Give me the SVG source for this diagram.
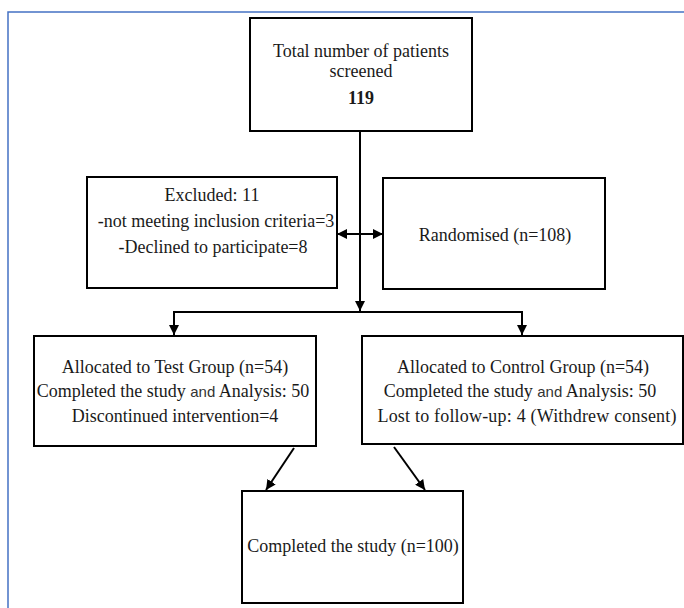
<svg xmlns="http://www.w3.org/2000/svg" width="684" height="608" viewBox="0 0 684 608">
<style>
.box{fill:#fff;stroke:#000;stroke-width:2}
.t{font-family:"Liberation Serif","Times New Roman",serif;font-size:18px;fill:#1a1a1a;text-anchor:middle}
.b{font-weight:bold}
.s{font-family:"Liberation Sans",Arial,sans-serif;font-size:15px;fill:#333}
.c{stroke:#000;stroke-width:2;fill:none}
.frame{stroke:#4472C4;stroke-width:1.5;fill:none}
</style>
<defs>
<marker id="ah" viewBox="0 0 10 10" refX="10" refY="5" markerWidth="10" markerHeight="10" markerUnits="userSpaceOnUse" orient="auto-start-reverse">
<path d="M0,0 L10,5 L0,10 z" fill="#000"/>
</marker>
</defs>
<path class="frame" d="M8,608 V12 H684"/>
<g id="connectors">
<path class="c" d="M360,131 V311" marker-end="url(#ah)"/>
<path class="c" d="M174,335 V312 H522 V335" marker-start="url(#ah)" marker-end="url(#ah)"/>
<path class="c" d="M337,234 H383" marker-start="url(#ah)" marker-end="url(#ah)"/>
<path class="c" d="M294,448 L266,490" marker-end="url(#ah)"/>
<path class="c" d="M394,447 L425,490" marker-end="url(#ah)"/>
</g>
<g id="screened">
<rect class="box" x="250" y="18" width="222" height="113"/>
<text class="t" x="361" y="57">Total number of patients</text>
<text class="t" x="361" y="77">screened</text>
<text class="t b" x="361" y="104">119</text>
</g>
<g id="excluded">
<rect class="box" x="87" y="177" width="250" height="111"/>
<text class="t" x="212" y="201">Excluded: 11</text>
<text class="t" x="216" y="227">-not meeting inclusion criteria=3</text>
<text class="t" x="213" y="253">-Declined to participate=8</text>
</g>
<g id="randomised">
<rect class="box" x="383" y="178" width="222" height="111"/>
<text class="t" x="495" y="241">Randomised (n=108)</text>
</g>
<g id="test">
<rect class="box" x="34" y="336" width="282" height="110"/>
<text class="t" x="175" y="373">Allocated to Test Group (n=54)</text>
<text class="t" x="173" y="397">Completed the study <tspan class="s">and</tspan> Analysis: 50</text>
<text class="t" x="175" y="422">Discontinued intervention=4</text>
</g>
<g id="control">
<rect class="box" x="362" y="336" width="321" height="108"/>
<text class="t" x="523" y="373">Allocated to Control Group (n=54)</text>
<text class="t" x="520" y="397">Completed the study <tspan class="s">and</tspan> Analysis: 50</text>
<text class="t" x="527" y="422" textLength="299" lengthAdjust="spacing">Lost to follow-up: 4 (Withdrew consent)</text>
</g>
<g id="completed">
<rect class="box" x="242" y="491" width="221" height="112"/>
<text class="t" x="353" y="552">Completed the study (n=100)</text>
</g>
</svg>
